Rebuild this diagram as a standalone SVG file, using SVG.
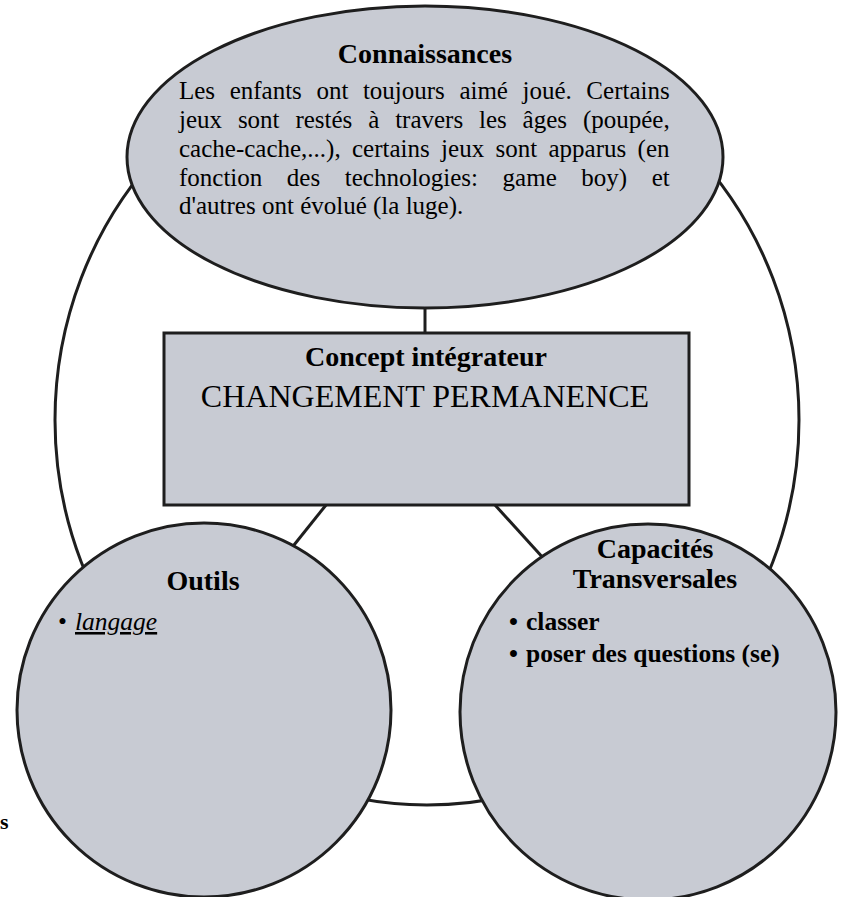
<svg xmlns="http://www.w3.org/2000/svg" width="843" height="897" viewBox="0 0 843 897">
<style>
.shape{fill:#c8cbd3;stroke:#1e1e1e;stroke-width:3}
.conn{fill:none;stroke:#1e1e1e;stroke-width:3}
text{font-family:"Liberation Serif","Times New Roman",serif;fill:#000}
.h{font-weight:bold;font-size:28px;text-anchor:middle}
.body{font-size:25px}
.b{font-weight:bold;font-size:25.5px}
</style>
<rect width="843" height="897" fill="#fff"/>
<g id="connectors">
<ellipse class="conn" cx="427" cy="420" rx="372" ry="385"/>
<line class="conn" x1="425" y1="300" x2="425" y2="333"/>
<line class="conn" x1="326" y1="505" x2="282" y2="560"/>
<line class="conn" x1="495" y1="505" x2="545" y2="560"/>
</g>
<g id="connaissances">
<ellipse class="shape" cx="425" cy="157" rx="298" ry="151"/>
<text class="h" x="425" y="63">Connaissances</text>
<text class="body" x="179" y="99" word-spacing="8.3">Les enfants ont toujours aimé joué. Certains</text>
<text class="body" x="179" y="128" word-spacing="9.6">jeux sont restés à travers les âges (poupée,</text>
<text class="body" x="179" y="157" word-spacing="5.1">cache-cache,...), certains jeux sont apparus (en</text>
<text class="body" x="179" y="185.5" word-spacing="18.3">fonction des technologies: game boy) et</text>
<text class="body" x="179" y="214">d'autres ont évolué (la luge).</text>
</g>
<g id="concept">
<rect class="shape" x="164" y="333" width="525" height="172"/>
<text class="h" x="426" y="366" font-size="31">Concept intégrateur</text>
<text x="425" y="407" font-size="32" text-anchor="middle">CHANGEMENT PERMANENCE</text>
</g>
<g id="outils">
<circle class="shape" cx="204" cy="710" r="187"/>
<text class="h" x="203" y="590">Outils</text>
<text x="58" y="630" font-size="25.5">•</text>
<text x="75" y="630" font-size="25.5" font-style="italic" text-decoration="underline">langage</text>
</g>
<g id="capacites">
<circle class="shape" cx="648" cy="712" r="188"/>
<text class="h" x="655" y="558">Capacités</text>
<text class="h" x="655" y="588">Transversales</text>
<text class="b" x="509" y="630">•</text>
<text class="b" x="526" y="630">classer</text>
<text class="b" x="509" y="662">•</text>
<text class="b" x="526" y="662">poser des questions (se)</text>
</g>
<text x="0" y="829" font-size="22" font-weight="bold">s</text>
</svg>
